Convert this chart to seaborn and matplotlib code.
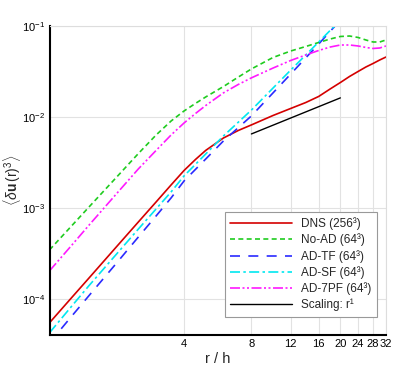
import numpy as np
import pandas as pd
import matplotlib
matplotlib.use("Agg")
import matplotlib.pyplot as plt
import seaborn as sns
from matplotlib.ticker import FixedLocator, FixedFormatter, LogLocator, NullFormatter

# ---- data ----
r_a = [1, 1.25, 1.5, 2, 2.5, 3, 3.5, 4, 4.5, 5, 6, 7, 8, 10, 12, 14, 16, 18, 20,
       22, 24, 26, 28, 30, 32]
dns = [5.45e-5, 1.016e-4, 1.687e-4, 3.77e-4, 7.02e-4, 1.164e-3, 1.79e-3, 2.58e-3,
       3.41e-3, 4.29e-3, 5.87e-3, 7.11e-3, 8.17e-3, 1.038e-2, 1.24e-2, 1.44e-2,
       1.68e-2, 2.03e-2, 2.39e-2, 2.79e-2, 3.16e-2, 3.54e-2, 3.87e-2, 4.23e-2, 4.56e-2]
no_ad = [3.45e-4, 6.26e-4, 1.019e-3, 2.19e-3, 3.97e-3, 6.34e-3, 9.03e-3, 1.164e-2,
         1.41e-2, 1.66e-2, 2.16e-2, 2.75e-2, 3.37e-2, 4.51e-2, 5.31e-2, 5.95e-2,
         6.59e-2, 7.19e-2, 7.67e-2, 7.76e-2, 7.48e-2, 7.02e-2, 6.67e-2, 6.67e-2, 7.02e-2]
ad_7pf = [2.03e-4, 3.82e-4, 6.43e-4, 1.442e-3, 2.69e-3, 4.29e-3, 6.34e-3, 8.59e-3,
          1.092e-2, 1.337e-2, 1.84e-2, 2.28e-2, 2.69e-2, 3.45e-2, 4.18e-2, 4.80e-2,
          5.38e-2, 5.87e-2, 6.18e-2, 6.18e-2, 6.03e-2, 5.81e-2, 5.66e-2, 5.73e-2, 6.03e-2]
r_b = [1, 1.25, 1.5, 2, 2.5, 3, 3.5, 4, 5, 6, 8, 10, 12, 16, 20]
ad_tf = [3.28e-5, 6.34e-5, 1.08e-4, 2.49e-4, 4.80e-4, 8.17e-4, 1.288e-3, 1.98e-3,
         3.45e-3, 5.45e-3, 1.026e-2, 1.84e-2, 2.97e-2, 6.34e-2, 1.16e-1]
ad_sf = [4.23e-5, 8.17e-5, 1.39e-4, 3.13e-4, 5.87e-4, 9.75e-4, 1.50e-3, 2.25e-3,
         3.92e-3, 6.18e-3, 1.19e-2, 2.08e-2, 3.28e-2, 6.67e-2, 1.16e-1]
scale_r = [8, 20]
scale_v = [6.5e-3, 1.62e-2]

labels = ["DNS (256\u00b3)", "No-AD (64\u00b3)", "AD-TF (64\u00b3)", "AD-SF (64\u00b3)",
          "AD-7PF (64\u00b3)", "Scaling: r\u00b9"]
x_major = [4, 8, 12, 16, 20, 24, 28, 32]
x_major_labels = ["4", "8", "12", "16", "20", "24", "28", "32"]
y_major = [1e-4, 1e-3, 1e-2, 1e-1]
y_major_labels = ["$10^{-4}$", "$10^{-3}$", "$10^{-2}$", "$10^{-1}$"]

sns.set_style("white")
plt.rcParams["font.family"] = ["Liberation Sans", "DejaVu Sans"]
plt.rcParams["mathtext.fontset"] = "custom"
plt.rcParams["mathtext.rm"] = "Liberation Sans"
plt.rcParams["mathtext.it"] = "Liberation Sans:italic"
plt.rcParams["mathtext.bf"] = "Liberation Sans:bold"

fig = plt.figure(figsize=(4.15, 3.69), dpi=100)
ax = fig.add_axes([49.5 / 415, 1 - 335 / 369, (386 - 49.5) / 415, (335 - 26) / 369])

series = [
    (r_a, dns, labels[0], "#d40000", None, 1.2),
    (r_a, no_ad, labels[1], "#1fcc1f", (0, (3, 2)), 1.2),
    (r_b, ad_tf, labels[2], "#2a2aff", (0, (6, 5)), 1.2),
    (r_b, ad_sf, labels[3], "#00e8f0", (0, (6, 2, 1.5, 2)), 1.2),
    (r_a, ad_7pf, labels[4], "#ff19ff", (0, (6, 1.5, 1.2, 1.5, 1.2, 1.5)), 1.2),
    (scale_r, scale_v, labels[5], "#000000", None, 1.0),
]
for xs, ys, lab, col, ls, lw in series:
    df = pd.DataFrame({"r": xs, "v": ys})
    sns.lineplot(data=df, x="r", y="v", ax=ax, color=col, lw=lw, label=lab, sort=False)
    if ls is not None:
        ax.lines[-1].set_linestyle(ls)

ax.set_xscale("log", base=2)
ax.set_yscale("log")
ax.set_xlim(1, 32)
ax.set_ylim(4.0e-5, 1e-1)

ax.xaxis.set_major_locator(FixedLocator(x_major))
ax.xaxis.set_major_formatter(FixedFormatter(x_major_labels))
minors = [m for m in np.arange(0.8, 32.01, 0.8) if all(abs(m - M) > 1e-6 for M in x_major)]
ax.xaxis.set_minor_locator(FixedLocator(minors))
ax.xaxis.set_minor_formatter(NullFormatter())
ax.yaxis.set_major_locator(FixedLocator(y_major))
ax.yaxis.set_major_formatter(FixedFormatter(y_major_labels))
ax.yaxis.set_minor_locator(LogLocator(base=10, subs=np.arange(2, 10)))
ax.yaxis.set_minor_formatter(NullFormatter())

ax.tick_params(which="major", direction="in", length=6, width=1.2, labelsize=8, colors="black", pad=3)
ax.tick_params(which="minor", direction="in", length=3, width=0.8)
ax.tick_params(axis="x", which="both", top=False)
ax.tick_params(axis="y", which="both", right=False)

ax.grid(True, which="major", color="#e2e2e2", lw=0.8)
for s in ["left", "bottom"]:
    ax.spines[s].set_color("black")
    ax.spines[s].set_linewidth(1.5)
for s in ["top", "right"]:
    ax.spines[s].set_color("#dddddd")
    ax.spines[s].set_linewidth(0.8)

ax.set_xlabel("r / h", fontsize=10.5, labelpad=2)
ax.set_ylabel(r"$\langle\delta\mathbf{u}\,(\mathrm{r})^3\rangle$", fontsize=10)
ax.yaxis.set_label_coords(-0.08, 0.5)

leg = ax.legend(loc="lower right", bbox_to_anchor=(0.99, 0.04), fontsize=8.5,
                handlelength=5.2, frameon=True, fancybox=False, framealpha=1,
                edgecolor="#999999", borderpad=0.45, labelspacing=0.3, handletextpad=0.8)
leg.get_frame().set_linewidth(0.8)

fig.savefig("out.png", dpi=100)
